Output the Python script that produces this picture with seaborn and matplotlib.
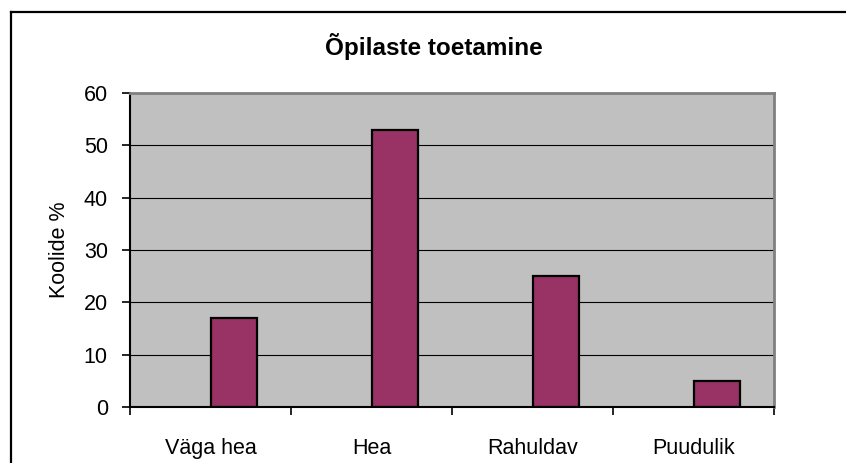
import pandas as pd
import numpy as np
import matplotlib
matplotlib.use("Agg")
import matplotlib.pyplot as plt
import seaborn as sns
from matplotlib.lines import Line2D

# chart data
categories = ["Väga hea", "Hea", "Rahuldav", "Puudulik"]
values = [17, 53, 25, 5]
series_name = "Koolide %"

plt.rcParams['font.family'] = ['Liberation Sans', 'DejaVu Sans']

# first (empty) series keeps the bar in the right half of each slot, like the original
df = pd.DataFrame({
    'kategooria': categories * 2,
    'seeria': ['tühi'] * len(categories) + [series_name] * len(categories),
    'vaartus': [np.nan] * len(categories) + values,
})

fig = plt.figure(figsize=(8.46, 4.63), dpi=100)
ax = fig.add_axes([130 / 846, 1 - 407 / 463, 644 / 846, 314 / 463])

sns.barplot(data=df, x='kategooria', y='vaartus', hue='seeria',
            hue_order=['tühi', series_name], order=categories,
            palette=['#993366', '#993366'], saturation=1, width=0.572, dodge=True,
            edgecolor='black', linewidth=1.6, legend=False, ax=ax)

ax.set_facecolor('#C0C0C0')
ax.set_ylim(0, 60)
ax.set_xlim(-0.5, len(categories) - 0.5)
ax.set_yticks(range(0, 61, 10))
ax.yaxis.grid(True, color='black', linewidth=0.8)
ax.set_axisbelow(True)

# x ticks: labels at centres, tick marks between categories
ax.set_xticks(range(len(categories)))
ax.set_xticklabels(categories)
ax.set_xticks(np.arange(-0.5, len(categories), 1.0), minor=True)
ax.tick_params(axis='x', which='major', length=0, pad=22, labelsize=15.5)
ax.tick_params(axis='x', which='minor', length=6, width=1.2, color='black')
ax.tick_params(axis='y', length=6, width=1.2, pad=10, labelsize=15.5)

ax.set_xlabel('')
ax.set_ylabel(series_name, fontsize=15.5)
ax.yaxis.set_label_coords(-0.093, 0.5)

for side in ['left', 'bottom']:
    ax.spines[side].set_color('black')
    ax.spines[side].set_linewidth(1.5)
for side in ['top', 'right']:
    ax.spines[side].set_color('#808080')
    ax.spines[side].set_linewidth(2)

fig.text(434 / 846, 1 - 47 / 463, 'Õpilaste toetamine', ha='center', va='center',
         fontsize=17.5, fontweight='bold')

# outer chart border (cropped at right and bottom)
fig.add_artist(Line2D([10.5 / 846, 10.5 / 846], [0, 1 - 11.5 / 463],
                      transform=fig.transFigure, color='black', linewidth=1.6))
fig.add_artist(Line2D([10.5 / 846, 1], [1 - 11.5 / 463, 1 - 11.5 / 463],
                      transform=fig.transFigure, color='black', linewidth=1.6))

fig.savefig('out.png', dpi=100, facecolor='white')
